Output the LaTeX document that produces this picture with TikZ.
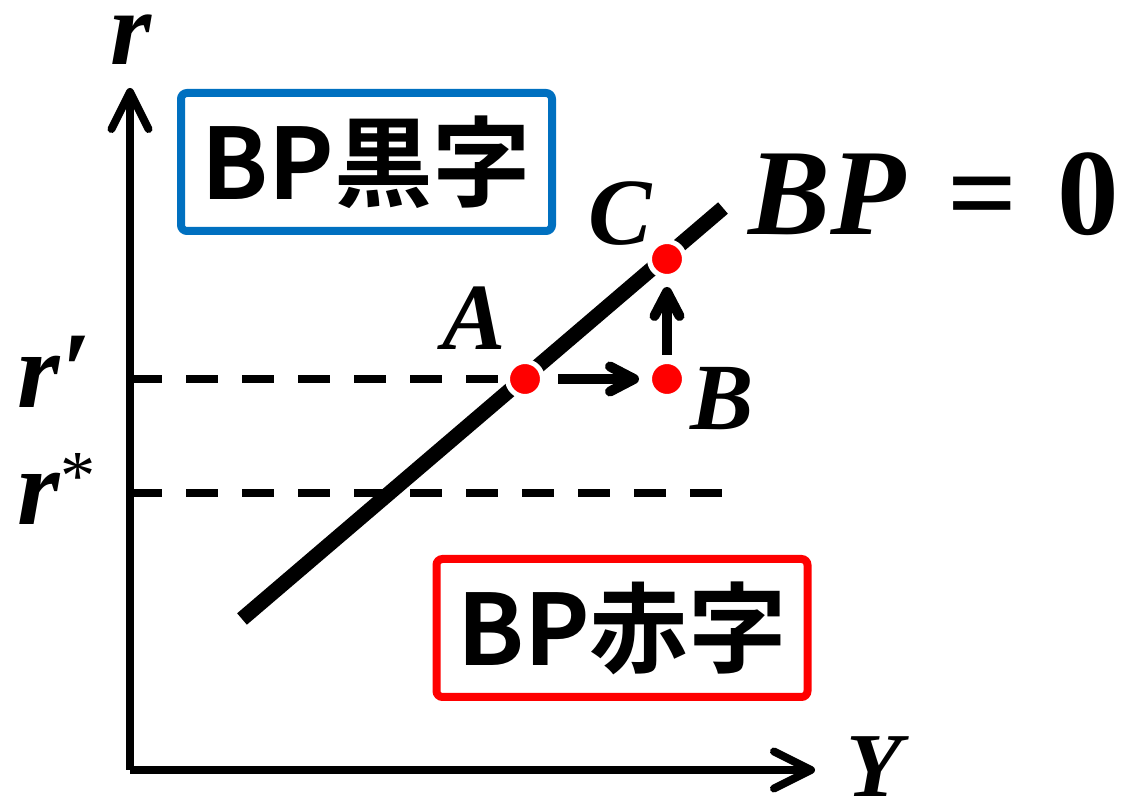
\documentclass[tikz,border=0pt]{standalone}
\usepackage{fontspec}
\newfontfamily\jpfont{Noto Sans CJK JP}[BoldFont={* Bold}]
\newfontfamily\varfont{Liberation Serif}
\usetikzlibrary{arrows.meta}
\definecolor{bpblue}{HTML}{0070C0}
\definecolor{bpred}{HTML}{FF0000}
\newcommand\supstar{\raisebox{0.25cm}{\fontsize{20}{20}\selectfont\mdseries\upshape *}}

\begin{document}
\begin{tikzpicture}[
    axis/.style={line width=0.08cm,
      -{Straight Barb[length=0.37cm,width=0.37cm,round]}},
    refline/.style={line width=0.08cm,dash pattern=on 0.32cm off 0.24cm},
    moveto/.style={line width=0.1cm,
      -{Straight Barb[length=0.24cm,width=0.25cm,round]}},
    pt/.style={circle,fill=bpred,draw=white,line width=0.05cm,
      minimum size=0.35cm,inner sep=0pt,outer sep=0pt},
    mlab/.style={font=\varfont\bfseries\itshape\fontsize{#1}{#1}\selectfont,
      inner sep=0pt},
    zone/.style={line width=0.08cm,rounded corners=0.6mm,
      minimum width=3.71cm,minimum height=1.38cm,
      font=\jpfont\bfseries\fontsize{28}{30}\selectfont}
  ]
    \useasboundingbox (0,0) rectangle (11.31,8.05);
    % axes
    \coordinate (O) at (1.30,0.35);
    \coordinate (rtop) at (1.30,7.17);
    \coordinate (Yend) at (8.15,0.35);
    \draw[axis] (O)--(rtop);
    \draw[axis] (O)--(Yend);
    \node[mlab=30,anchor=base] (rlab) at (1.31,7.40) {r};
    \node[mlab=26,anchor=base] (Ylab) at (8.74,0.09) {Y};
    % the BP = 0 line
    \coordinate (bplo) at (2.42,1.86);
    \coordinate (bphi) at (7.23,5.97);
    \node[mlab=35,anchor=base west] (bplab) at (7.48,5.70)
      {BP\hspace{0.42cm}{\upshape =}\hspace{0.40cm}{\upshape 0}};
    % points
    \coordinate (A) at (5.25,4.26);
    \coordinate (B) at (6.67,4.26);
    \coordinate (C) at (6.67,5.46);
    \coordinate (rstar) at (1.30,3.12);
    \coordinate (rstarend) at (7.22,3.12);
    \draw[refline] (O|-A)--(A);
    \draw[refline] (rstar)--(rstarend);
    \draw[line width=0.15cm] (bplo)--(bphi);
    \node[pt] (Adot) at (A) {};
    \node[pt] (Bdot) at (B) {};
    \node[pt] (Cdot) at (C) {};
    \draw[moveto,shorten <=0.155cm,shorten >=0.105cm] (Adot)--(Bdot);
    \draw[moveto,shorten <=0.065cm,shorten >=0.105cm] (Bdot)--(Cdot);
    \node[mlab=27,anchor=base] (Alab) at (4.74,4.55) {A};
    \node[mlab=27,anchor=base] (Blab) at (7.22,3.75) {B};
    \node[mlab=27,anchor=base] (Clab) at (6.20,5.60) {C};
    \node[mlab=31,anchor=base west] (rprime) at (0.17,3.97) {r′};
    \node[mlab=31,anchor=base west] (rstarlab) at (0.17,2.80) {r\supstar};
    % surplus and deficit regions
    \node[zone,draw=bpblue] (surplus) at (3.665,6.43) {BP黒字};
    \node[zone,draw=bpred] (deficit) at (6.22,1.77) {BP赤字};
  \end{tikzpicture}
\end{document}
